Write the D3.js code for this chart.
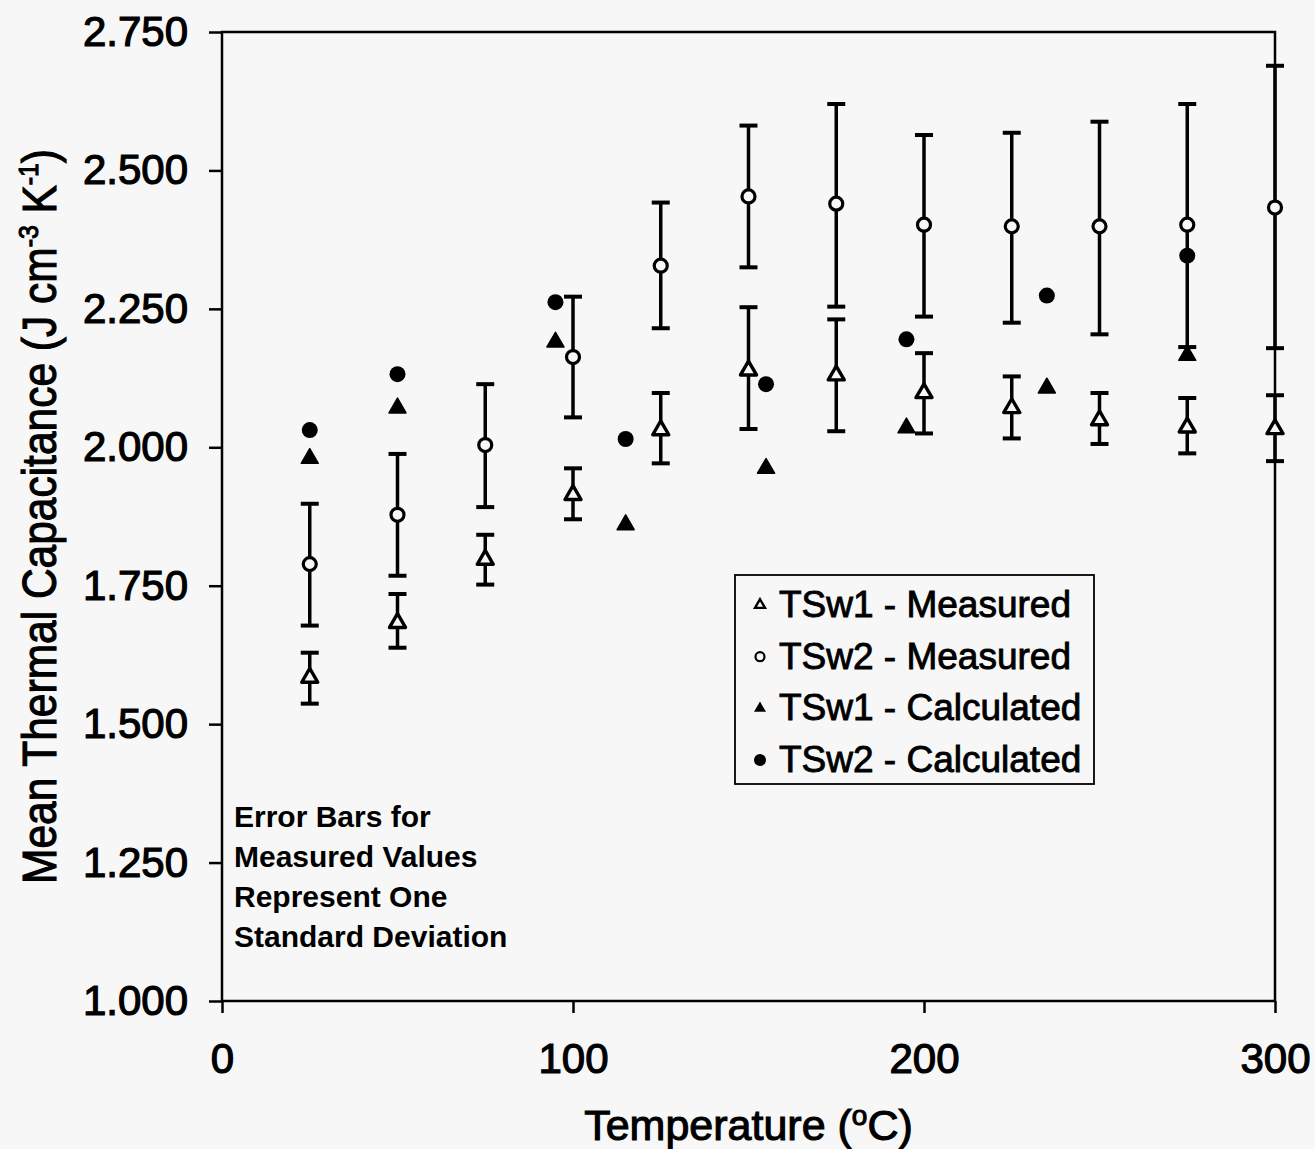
<!DOCTYPE html>
<html lang="en">
<meta charset="utf-8">
<head>
  <style>
    body { margin: 0; background: #f7f7f7; }
    svg { display: block; }
    .axis text { font: 42px "Liberation Sans", Arial, sans-serif; fill: #000; stroke: #000; stroke-width: 1.2px; }
    .axis line { stroke: #000; stroke-width: 2.5px; }
    .axis path { display: none; }
    .title { font-family: "Liberation Sans", Arial, sans-serif; fill: #000; stroke: #000; stroke-width: 1.1px; }
    .legend text { font: 37px "Liberation Sans", Arial, sans-serif; fill: #000; stroke: #000; stroke-width: 0.9px; }
    .note { font: bold 30px "Liberation Sans", Arial, sans-serif; fill: #000; }
  </style>
  <title></title>
</head>
<body>
<script src="https://cdnjs.cloudflare.com/ajax/libs/d3/7.8.5/d3.min.js"></script>
<script>

  // measured temperatures (deg C)
  const temps = [25, 50, 75, 100, 125, 150, 175, 200, 225, 250, 275, 300];

  // TSw1 measured: mean and +/- one standard deviation
  const tsw1Mean  = [1.584, 1.683, 1.797, 1.914, 2.031, 2.139, 2.130, 2.098, 2.071, 2.049, 2.036, 2.033];
  const tsw1Upper = [1.629, 1.735, 1.842, 1.962, 2.098, 2.253, 2.231, 2.170, 2.128, 2.098, 2.089, 2.094];
  const tsw1Lower = [1.537, 1.638, 1.752, 1.870, 1.971, 2.033, 2.029, 2.025, 2.016, 2.006, 1.989, 1.975];

  // TSw2 measured
  const tsw2Mean  = [1.789, 1.878, 2.004, 2.163, 2.328, 2.453, 2.440, 2.402, 2.399, 2.399, 2.402, 2.433];
  const tsw2Upper = [1.898, 1.988, 2.114, 2.272, 2.442, 2.581, 2.620, 2.564, 2.568, 2.588, 2.620, 2.689];
  const tsw2Lower = [1.678, 1.768, 1.892, 2.054, 2.215, 2.325, 2.254, 2.236, 2.225, 2.204, 2.181, 2.179];

  // calculated values
  const calcTemps = [25, 50, 95, 115, 155, 195, 235, 275];
  const tsw1Calc  = [1.980, 2.071, 2.190, 1.860, 1.962, 2.035, 2.107, 2.166];
  const tsw2Calc  = [2.031, 2.132, 2.262, 2.015, 2.114, 2.195, 2.274, 2.346];

  const xTicks = [0, 100, 200, 300];
  const yTicks = [1.0, 1.25, 1.5, 1.75, 2.0, 2.25, 2.5, 2.75];

  const legendLabels = ["TSw1 - Measured", "TSw2 - Measured", "TSw1 - Calculated", "TSw2 - Calculated"];
  const noteLines = ["Error Bars for", "Measured Values", "Represent One", "Standard Deviation"];

  const W = 1315, H = 1149;
  const bg = "#f7f7f7";

  const x = d3.scaleLinear().domain([0, 300]).range([222, 1275]);
  const y = d3.scaleLinear().domain([1, 2.75]).range([1001, 32]);

  const svg = d3.select("body").append("svg")
          .attr("width", W)
          .attr("height", H);

  svg.append("rect").attr("width", W).attr("height", H).attr("fill", bg);

  // axes
  svg.append("g")
      .attr("class", "axis")
      .attr("transform", "translate(" + x(0) + ",0)")
      .call(d3.axisLeft(y).tickValues(yTicks).tickFormat(d3.format(".3f"))
              .tickSize(13).tickPadding(21).tickSizeOuter(0));

  svg.append("g")
      .attr("class", "axis")
      .attr("transform", "translate(0," + y(1) + ")")
      .call(d3.axisBottom(x).tickValues(xTicks).tickFormat(d3.format("d"))
              .tickSize(12).tickPadding(30).tickSizeOuter(0));

  // plot frame
  svg.append("rect")
      .attr("x", x(0)).attr("y", y(2.75))
      .attr("width", x(300) - x(0)).attr("height", y(1) - y(2.75))
      .attr("fill", "none").attr("stroke", "#000").attr("stroke-width", 2.5);

  // axis titles
  const yTitle = svg.append("text")
      .attr("class", "title")
      .attr("transform", "translate(56," + ((y(1) + y(2.75)) / 2) + ") rotate(-90)")
      .attr("text-anchor", "middle")
      .style("font-size", "48px")
      .attr("textLength", 735)
      .attr("lengthAdjust", "spacingAndGlyphs");
  yTitle.append("tspan").text("Mean Thermal Capacitance (J cm");
  yTitle.append("tspan").attr("dy", -18).style("font-size", "28px").text("-3");
  yTitle.append("tspan").attr("dy", 18).text(" K");
  yTitle.append("tspan").attr("dy", -18).style("font-size", "28px").text("-1");
  yTitle.append("tspan").attr("dy", 18).text(")");

  const xTitle = svg.append("text")
      .attr("class", "title")
      .attr("x", (x(0) + x(300)) / 2)
      .attr("y", 1140)
      .attr("text-anchor", "middle")
      .style("font-size", "43px");
  xTitle.append("tspan").text("Temperature (");
  xTitle.append("tspan").attr("dy", -15).style("font-size", "28px").text("o");
  xTitle.append("tspan").attr("dy", 15).text("C)");

  // symbol helpers
  function triPath(s) {
    const h = s * Math.sqrt(3) / 2;
    return "M0," + (-2 * h / 3) + "L" + (s / 2) + "," + (h / 3) + "L" + (-s / 2) + "," + (h / 3) + "Z";
  }

  // error bars
  function errorBars(lo, hi, cls) {
    const g = svg.append("g").attr("class", cls)
        .attr("stroke", "#000").attr("stroke-width", 3.5).attr("fill", "none");
    temps.forEach(function (t, i) {
      const cx = x(t);
      g.append("line").attr("x1", cx).attr("x2", cx).attr("y1", y(lo[i])).attr("y2", y(hi[i]));
      g.append("line").attr("x1", cx - 9).attr("x2", cx + 9).attr("y1", y(lo[i])).attr("y2", y(lo[i])).attr("stroke-width", 4);
      g.append("line").attr("x1", cx - 9).attr("x2", cx + 9).attr("y1", y(hi[i])).attr("y2", y(hi[i])).attr("stroke-width", 4);
    });
  }
  errorBars(tsw1Lower, tsw1Upper, "err1");
  errorBars(tsw2Lower, tsw2Upper, "err2");

  // measured markers (open)
  svg.append("g").selectAll("path")
      .data(temps.map(function (t, i) { return [t, tsw1Mean[i]]; }))
      .enter().append("path")
      .attr("d", triPath(16))
      .attr("transform", function (d) { return "translate(" + x(d[0]) + "," + y(d[1]) + ")"; })
      .attr("fill", bg).attr("stroke", "#000").attr("stroke-width", 3.4)
      .attr("stroke-linejoin", "round");

  svg.append("g").selectAll("circle")
      .data(temps.map(function (t, i) { return [t, tsw2Mean[i]]; }))
      .enter().append("circle")
      .attr("cx", function (d) { return x(d[0]); })
      .attr("cy", function (d) { return y(d[1]); })
      .attr("r", 6.5)
      .attr("fill", bg).attr("stroke", "#000").attr("stroke-width", 3.2);

  // calculated markers (filled)
  svg.append("g").selectAll("path")
      .data(calcTemps.map(function (t, i) { return [t, tsw1Calc[i]]; }))
      .enter().append("path")
      .attr("d", triPath(17))
      .attr("transform", function (d) { return "translate(" + x(d[0]) + "," + y(d[1]) + ")"; })
      .attr("fill", "#000").attr("stroke", "#000").attr("stroke-width", 1.5)
      .attr("stroke-linejoin", "round");

  svg.append("g").selectAll("circle")
      .data(calcTemps.map(function (t, i) { return [t, tsw2Calc[i]]; }))
      .enter().append("circle")
      .attr("cx", function (d) { return x(d[0]); })
      .attr("cy", function (d) { return y(d[1]); })
      .attr("r", 8)
      .attr("fill", "#000");

  // legend
  const legend = svg.append("g").attr("class", "legend");
  legend.append("rect")
      .attr("x", 735).attr("y", 575).attr("width", 359).attr("height", 209)
      .attr("fill", "none").attr("stroke", "#000").attr("stroke-width", 1.8);

  legendLabels.forEach(function (label, i) {
    const base = 617 + i * 51.7;
    const sy = base - 12;
    if (i === 0) {
      legend.append("path").attr("d", triPath(10)).attr("transform", "translate(760," + sy + ")")
          .attr("fill", bg).attr("stroke", "#000").attr("stroke-width", 2.4);
    } else if (i === 1) {
      legend.append("circle").attr("cx", 760).attr("cy", sy).attr("r", 4.5)
          .attr("fill", bg).attr("stroke", "#000").attr("stroke-width", 2.2);
    } else if (i === 2) {
      legend.append("path").attr("d", triPath(12)).attr("transform", "translate(760," + sy + ")")
          .attr("fill", "#000");
    } else {
      legend.append("circle").attr("cx", 760).attr("cy", sy).attr("r", 6).attr("fill", "#000");
    }
    legend.append("text").attr("x", 779).attr("y", base).text(label);
  });

  // note
  svg.append("g").selectAll("text")
      .data(noteLines)
      .enter().append("text")
      .attr("class", "note")
      .attr("x", 234)
      .attr("y", function (d, i) { return 827 + i * 40; })
      .text(function (d) { return d; });

</script>
</body>
</html>
